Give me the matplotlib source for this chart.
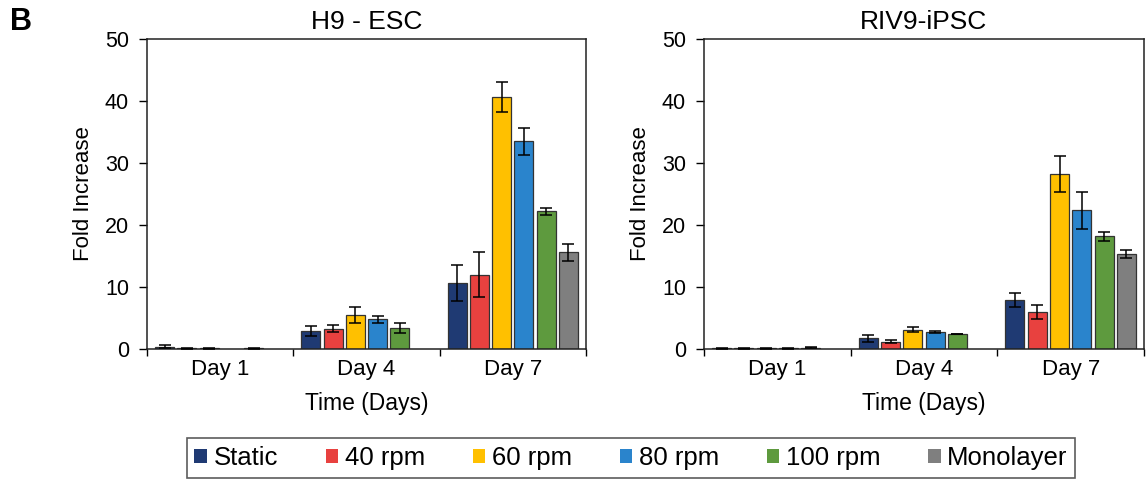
import numpy as np
import matplotlib
matplotlib.use("Agg")
import matplotlib.pyplot as plt
from matplotlib.patches import Patch

plt.rcParams['font.family'] = ['Liberation Sans', 'DejaVu Sans']

days = ["Day 1", "Day 4", "Day 7"]
series = ["Static", "40 rpm", "60 rpm", "80 rpm", "100 rpm", "Monolayer"]
colors = ["#1F3A73", "#E8413F", "#FFC000", "#2A84CC", "#5E9A3E", "#7F7F7F"]

# H9 - ESC (rows = series, columns = days)
h9_vals = [
    [0.4, 2.9, 10.6],
    [0.1, 3.3, 12.0],
    [0.1, 5.5, 40.7],
    [np.nan, 4.8, 33.5],
    [0.1, 3.4, 22.2],
    [np.nan, np.nan, 15.6],
]
h9_errs = [
    [0.2, 0.75, 2.9],
    [0.05, 0.5, 3.6],
    [0.05, 1.3, 2.4],
    [np.nan, 0.6, 2.2],
    [0.05, 0.8, 0.6],
    [np.nan, np.nan, 1.4],
]

# RIV9 - iPSC
riv9_vals = [
    [0.1, 1.7, 7.9],
    [0.1, 1.2, 6.0],
    [0.1, 3.1, 28.3],
    [0.1, 2.8, 22.4],
    [0.2, 2.4, 18.2],
    [np.nan, np.nan, 15.3],
]
riv9_errs = [
    [0.05, 0.6, 1.2],
    [0.05, 0.3, 1.1],
    [0.05, 0.4, 2.9],
    [0.05, 0.15, 3.0],
    [0.05, 0.05, 0.7],
    [np.nan, np.nan, 0.7],
]

titles = ["H9 - ESC", "RIV9-iPSC"]

fig = plt.figure(figsize=(11.46, 4.8), dpi=100)
ax1 = fig.add_axes([147/1146, 1 - 349/480, 439/1146, 310/480])
ax2 = fig.add_axes([704/1146, 1 - 349/480, 440/1146, 310/480])

slot = 0.152
width = 0.13
centers = np.arange(len(days)) + 0.5

for ax, vals, errs, title in [(ax1, h9_vals, h9_errs, titles[0]),
                              (ax2, riv9_vals, riv9_errs, titles[1])]:
    for i, (s, c) in enumerate(zip(series, colors)):
        x = centers + (i - 2.5) * slot
        v = np.array(vals[i], dtype=float)
        e = np.array(errs[i], dtype=float)
        ax.bar(x, v, width=width, color=c, edgecolor="#333333", linewidth=0.9, zorder=2)
        ax.errorbar(x, v, yerr=e, fmt="none", ecolor="black", elinewidth=1.1,
                    capsize=4, capthick=1.1, zorder=3)
    ax.set_xlim(0, 3)
    ax.set_ylim(0, 50)
    ax.set_yticks([0, 10, 20, 30, 40, 50])
    ax.set_xticks([0, 1, 2, 3])
    ax.set_xticklabels([])
    ax.set_xticks(centers, minor=True)
    ax.set_xticklabels(days, minor=True, fontsize=16)
    ax.tick_params(axis="x", which="minor", length=0, pad=7)
    ax.tick_params(axis="x", which="major", length=5, direction="out", width=1)
    ax.tick_params(axis="y", labelsize=15.5, length=6, width=1, pad=7)
    for sp in ax.spines.values():
        sp.set_linewidth(1.1)
        sp.set_color("#222222")
    ax.set_title(title, fontsize=19, pad=7)
    ax.set_xlabel("Time (Days)", fontsize=16.5, labelpad=9)
    ax.set_ylabel("Fold Increase", fontsize=16, labelpad=8)

fig.text(10/1146, 1 - 22/480, "B", fontsize=22, fontweight="bold", va="center", ha="left")

handles = [Patch(facecolor=c, edgecolor="none") for c in colors]
leg = fig.legend(handles, series, loc="center", bbox_to_anchor=(631/1146, 1 - 458/480),
                 ncol=6, fontsize=18.5, frameon=True, fancybox=False, edgecolor="#333333",
                 handlelength=0.5, handleheight=0.5, handletextpad=0.25, columnspacing=1.85,
                 borderpad=0.3, borderaxespad=0)
leg.get_frame().set_linewidth(1.2)

fig.savefig("out.png", dpi=100)
